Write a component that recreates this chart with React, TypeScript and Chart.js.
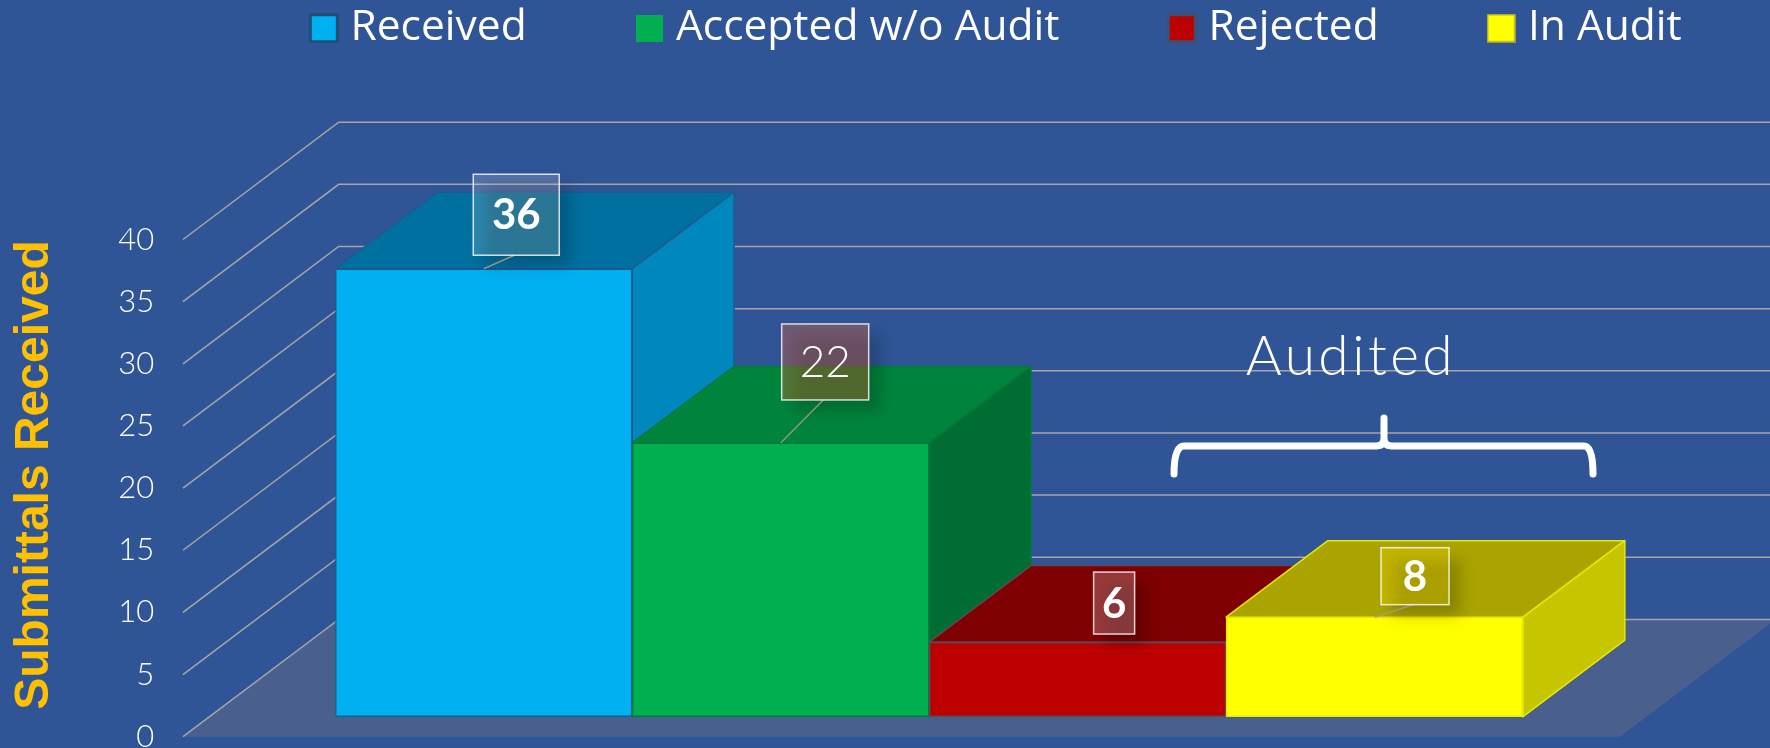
import React, { useEffect, useRef } from "react";
import { Chart, registerables } from "chart.js";

Chart.register(...registerables);

const categories = ["Received", "Accepted w/o Audit", "Rejected", "In Audit"];
const values = [36, 22, 6, 8];
const yTicksMax = 40;
const yStep = 5;
const yAxisTitle = "Submittals Received";
const groupLabel = "Audited";

const frontColors = ["#00B0F0", "#00B050", "#BC0000", "#FFFF00"];
const topColors = ["#0070A0", "#00843C", "#7E0000", "#A9A400"];
const sideColors = ["#0088BE", "#006E32", "#7E0000", "#C6C600"];
const edgeColors = ["#1F5A8C", "#007A3A", "#5A4A5A", "#E8E800"];
const swatchEdges = ["#1F4E79", "", "#3F4F70", "#A0A030"];

const BG = "#2F5597";
const WALL = { dx: 155.7, dy: 117.3 };
const DEPTH = { dx: 101.8, dy: 76.5 };

// data-label callouts, relative to the top-centre of each bar
const callouts = [
  { dx: 32.5, cy: -54, w: 86, h: 81, font: "700 42px Lato", fill: "rgba(255,255,255,0.17)", leader: true },
  { dx: 44.5, cy: -81, w: 87, h: 76, font: "300 44px Lato", fill: "rgba(250,100,40,0.32)", leader: true },
  { dx: 36.5, cy: -39, w: 41, h: 62, font: "700 42px Lato", fill: "rgba(255,255,255,0.22)", leader: false },
  { dx: 40.5, cy: -41, w: 68, h: 57, font: "700 42px Lato", fill: "rgba(255,225,0,0.30)", leader: true },
];

function makeSwatch(fill: string, edge: string) {
  const c = document.createElement("canvas");
  const size = edge && edge !== "#A0A030" ? 30 : edge ? 29 : 27;
  const bw = edge === "#A0A030" ? 1.5 : edge ? 3 : 0;
  c.width = size;
  c.height = size;
  const g = c.getContext("2d")!;
  if (edge) {
    g.fillStyle = edge;
    g.fillRect(0, 0, size, size);
  }
  g.fillStyle = fill;
  g.fillRect(bw, bw, size - 2 * bw, size - 2 * bw);
  return c;
}

const scene3d = {
  id: "scene3d",
  afterLayout(chart: any) {
    const legend = chart.legend;
    legend.left += 115;
    legend.right += 115;
    legend.top = -110;
    legend.bottom = 129;
  },
  beforeDatasetsDraw(chart: any) {
    const { ctx, scales, width, chartArea } = chart;
    const y = scales.y;
    const x0 = 183;
    ctx.save();
    // floor
    const y0 = y.getPixelForValue(0);
    ctx.fillStyle = "#49608F";
    ctx.beginPath();
    ctx.moveTo(x0, y0);
    ctx.lineTo(x0 + WALL.dx, y0 - WALL.dy);
    ctx.lineTo(chartArea.right + 97 + WALL.dx, y0 - WALL.dy);
    ctx.lineTo(chartArea.right + 97, y0);
    ctx.closePath();
    ctx.fill();
    // gridlines
    ctx.strokeStyle = "#A6A6A6";
    ctx.lineWidth = 1.5;
    y.ticks.forEach((t: any) => {
      const p = y.getPixelForValue(t.value);
      ctx.beginPath();
      ctx.moveTo(x0, p);
      ctx.lineTo(x0 + WALL.dx, p - WALL.dy);
      ctx.lineTo(width, p - WALL.dy);
      ctx.stroke();
    });
    // bar top and side faces, painted left to right
    const bars = chart.getDatasetMeta(0).data;
    bars.forEach((bar: any, i: number) => {
      const { x, y: top, base, width: w } = bar.getProps(["x", "y", "base", "width"], true);
      const l = x - w / 2;
      const r = x + w / 2;
      ctx.lineWidth = 1.5;
      ctx.strokeStyle = edgeColors[i];
      ctx.lineJoin = "round";
      ctx.fillStyle = topColors[i];
      ctx.beginPath();
      ctx.moveTo(l, top);
      ctx.lineTo(l + DEPTH.dx, top - DEPTH.dy);
      ctx.lineTo(r + DEPTH.dx, top - DEPTH.dy);
      ctx.lineTo(r, top);
      ctx.closePath();
      ctx.fill();
      ctx.stroke();
      ctx.fillStyle = sideColors[i];
      ctx.beginPath();
      ctx.moveTo(r, top);
      ctx.lineTo(r + DEPTH.dx, top - DEPTH.dy);
      ctx.lineTo(r + DEPTH.dx, base - DEPTH.dy);
      ctx.lineTo(r, base);
      ctx.closePath();
      ctx.fill();
      ctx.stroke();
    });
    ctx.restore();
  },
  afterDatasetsDraw(chart: any) {
    const { ctx } = chart;
    const bars = chart.getDatasetMeta(0).data;
    ctx.save();
    bars.forEach((bar: any, i: number) => {
      const { x, y: top } = bar.getProps(["x", "y"], true);
      const c = callouts[i];
      const cx = x + c.dx;
      const cy = top + c.cy;
      const bx = cx - c.w / 2;
      const by = cy - c.h / 2;
      // shadow only
      ctx.save();
      ctx.shadowColor = "rgba(0,0,0,0.2)";
      ctx.shadowBlur = 14;
      ctx.shadowOffsetX = 5000 + 11;
      ctx.shadowOffsetY = 11;
      ctx.fillStyle = "#000";
      ctx.fillRect(bx - 5000, by, c.w, c.h);
      ctx.restore();
      if (c.leader) {
        ctx.strokeStyle = "rgba(170,150,140,0.85)";
        ctx.lineWidth = 1.5;
        ctx.beginPath();
        ctx.moveTo(x, top);
        ctx.lineTo(cx - 2, by + c.h);
        ctx.stroke();
      }
      ctx.fillStyle = c.fill;
      ctx.fillRect(bx, by, c.w, c.h);
      ctx.strokeStyle = "rgba(255,255,255,0.8)";
      ctx.lineWidth = 1.5;
      ctx.strokeRect(bx, by, c.w, c.h);
      ctx.fillStyle = "#FFFFFF";
      ctx.font = c.font;
      ctx.textAlign = "center";
      ctx.textBaseline = "middle";
      ctx.fillText(String(values[i]), cx, cy + 1);
    });

    // "Audited" brace
    ctx.strokeStyle = "#FFFFFF";
    ctx.lineWidth = 7;
    ctx.lineCap = "round";
    ctx.lineJoin = "round";
    ctx.beginPath();
    ctx.moveTo(1174, 474);
    ctx.quadraticCurveTo(1174, 446, 1184, 446);
    ctx.lineTo(1376, 446);
    ctx.quadraticCurveTo(1384, 446, 1384, 438);
    ctx.lineTo(1384, 418);
    ctx.moveTo(1384, 438);
    ctx.quadraticCurveTo(1384, 446, 1392, 446);
    ctx.lineTo(1584, 446);
    ctx.quadraticCurveTo(1593, 446, 1593, 474);
    ctx.stroke();

    ctx.fillStyle = "#FFFFFF";
    ctx.font = "300 55px Lato";
    ctx.letterSpacing = "3.5px";
    ctx.textAlign = "center";
    ctx.textBaseline = "alphabetic";
    ctx.fillText(groupLabel, 1351, 375);
    ctx.letterSpacing = "0px";

    // axis title
    ctx.translate(35, 475);
    ctx.rotate(-Math.PI / 2);
    ctx.fillStyle = "#FFC000";
    ctx.font = "700 48px 'Liberation Sans'";
    ctx.textBaseline = "middle";
    ctx.fillText(yAxisTitle, 0, 0);
    ctx.restore();
  },
};

export default function App() {
  const ref = useRef<HTMLCanvasElement>(null);
  useEffect(() => {
    const swatches = frontColors.map((c, i) => makeSwatch(c, swatchEdges[i]));
    const chart = new Chart(ref.current!, {
      type: "bar",
      data: {
        labels: categories,
        datasets: [
          {
            data: values,
            yAxisID: "yBars",
            backgroundColor: frontColors,
            borderColor: edgeColors,
            borderWidth: 1.5,
            borderSkipped: false,
            barPercentage: 1,
            categoryPercentage: 1,
          } as any,
        ],
      },
      options: {
        responsive: false,
        animation: false,
        layout: { padding: { left: 0, top: 70, right: 0, bottom: 11.3 } },
        scales: {
          x: { display: false },
          y: {
            position: "left",
            min: 0,
            max: yTicksMax,
            afterFit: (s: any) => {
              s.width = 335.3;
              s.paddingTop = 0;
              s.paddingBottom = 0;
            },
            grid: { display: false, drawTicks: false },
            border: { display: false },
            ticks: {
              stepSize: yStep,
              padding: 181,
              autoSkip: false,
              color: "#FFFFFF",
              font: { family: "Lato", size: 31, weight: "300" },
            },
          },
          yBars: {
            display: false,
            position: "right",
            min: -1.606,
            max: 38.35,
            afterFit: (s: any) => {
              s.width = 247;
            },
          },
        },
        plugins: {
          tooltip: { enabled: false },
          legend: {
            position: "top",
            maxHeight: 239,
            labels: {
              usePointStyle: true,
              boxWidth: 11,
              boxHeight: 11,
              padding: 117,
              color: "#FFFFFF",
              font: { family: "'Open Sans'", size: 42.5 },
              generateLabels: () =>
                categories.map((text, i) => ({
                  text,
                  fillStyle: frontColors[i],
                  strokeStyle: "transparent",
                  lineWidth: 0,
                  pointStyle: swatches[i],
                  fontColor: "#FFFFFF",
                  datasetIndex: 0,
                  index: i,
                })),
            },
          },
        },
      } as any,
      plugins: [scene3d],
    });
    return () => chart.destroy();
  }, []);
  return (
    <div style={{ position: "fixed", left: 0, top: 0, width: 1770, height: 748, background: BG, overflow: "hidden" }}>
      <canvas ref={ref} width={1770} height={748} style={{ display: "block" }} />
    </div>
  );
}
